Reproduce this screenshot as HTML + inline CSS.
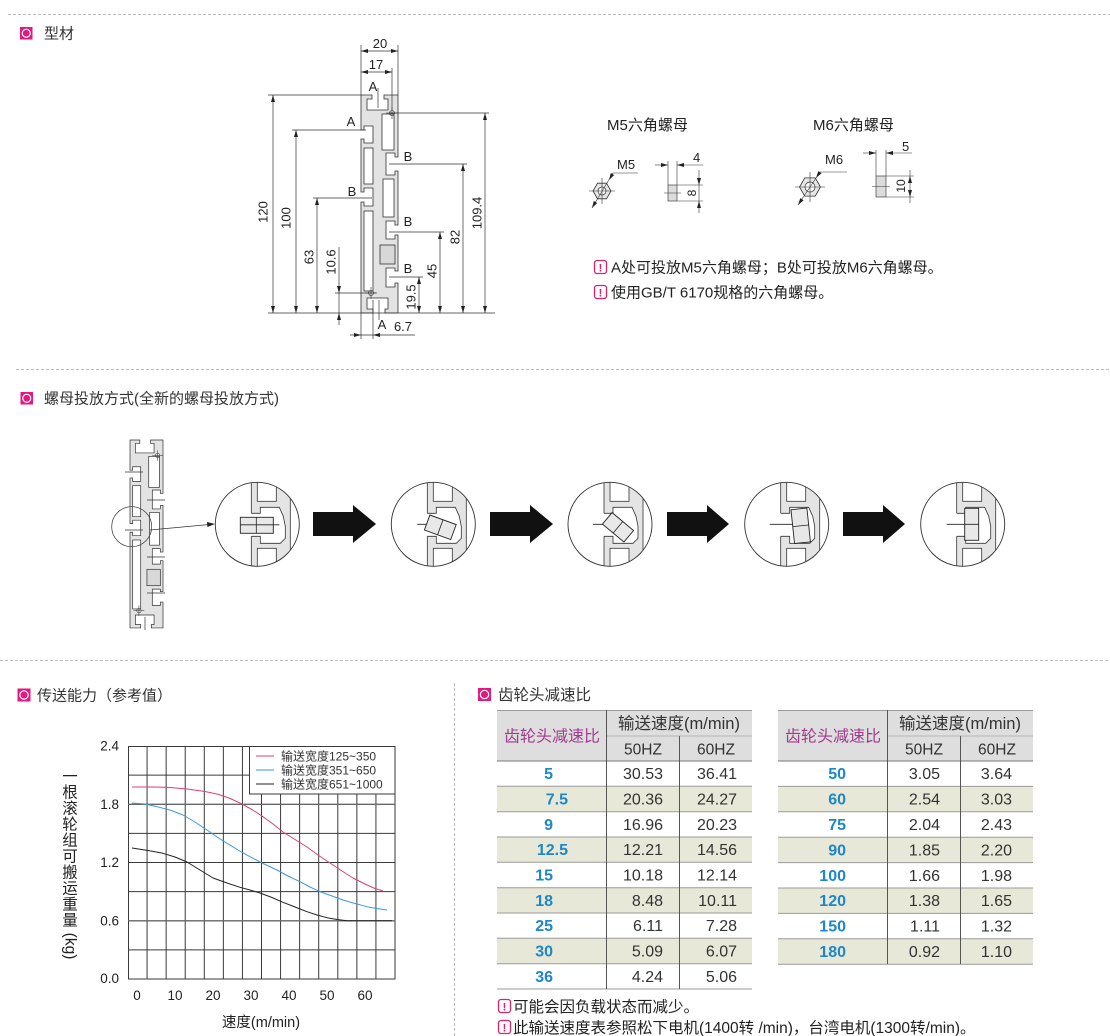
<!DOCTYPE html>
<html><head><meta charset="utf-8"><style>
html,body{margin:0;padding:0;background:#fff;width:1110px;height:1036px;overflow:hidden}
svg{display:block}
</style></head><body>
<svg width="1110" height="1036" viewBox="0 0 1110 1036" font-family="'Liberation Sans','Noto Sans CJK SC',sans-serif">
<defs>
<g id="prof">
<path d="M361,95 H372 V99 H367 V110 H388 V99 H384 V95 H398 V157 H395 V153 H386 V175 H395 V171 H398 V225 H395 V221 H386 V239 H395 V235 H398 V271 H395 V268 H386 V287 H395 V283 H398 V313 H385 V309 H388 V298 H367 V309 H373 V313 H361 V202 H364 V206 H373 V188 H364 V192 H361 V139 H364 V143 H373 V126 H364 V130 H361 Z" fill="#e3e3e3" stroke="#333" stroke-width="0.8"/>
<g fill="#fff" stroke="#333" stroke-width="0.8">
<rect x="382" y="114" width="12" height="36"/>
<rect x="364" y="148" width="9" height="36"/>
<rect x="383" y="179" width="11" height="38"/>
<rect x="364" y="211" width="9" height="80"/>
<rect x="380" y="245" width="15" height="19" fill="#d8d8d8"/>
</g>
<g fill="none" stroke="#333" stroke-width="0.6">
<circle cx="392" cy="113" r="2.5"/><line x1="386" y1="113" x2="398" y2="113"/><line x1="392" y1="107" x2="392" y2="119"/>
<circle cx="371" cy="293" r="2.5"/><line x1="365" y1="293" x2="377" y2="293"/><line x1="371" y1="287" x2="371" y2="299"/>
</g>
</g>
<clipPath id="cc" clipPathUnits="userSpaceOnUse"><circle cx="0" cy="0" r="42"/></clipPath>
<g id="cin">
<rect x="-6" y="-45" width="39" height="90" fill="#e4e4e4"/>
<rect x="0" y="-50" width="19" height="27" fill="#fff" stroke="#333" stroke-width="0.8"/>
<rect x="0" y="24" width="19" height="27" fill="#fff" stroke="#333" stroke-width="0.8"/>
<path d="M-7,-11 L3,-11 L3,-17 L22,-17 L26,-8 L28,2 L28,14 L23,19 L3,19 L3,12 L-7,12 Z" fill="#fff"/>
<path d="M-6,-11 L3,-11 L3,-17 L22,-17 L26,-8 L28,2 L28,14 L23,19 L3,19 L3,12 L-6,12" fill="none" stroke="#333" stroke-width="0.8"/>
<g stroke="#333" stroke-width="0.8">
<line x1="-6" y1="-50" x2="-6" y2="-11"/><line x1="-6" y1="12" x2="-6" y2="50"/>
<line x1="33" y1="-50" x2="33" y2="50"/>
</g>
</g>
</defs>

<!-- dashed separators -->
<g stroke="#bdbdbd" stroke-width="1" stroke-dasharray="3,2">
<line x1="8" y1="14.5" x2="1110" y2="14.5"/>
<line x1="16" y1="369.5" x2="1110" y2="369.5"/>
<line x1="0" y1="660.5" x2="1110" y2="660.5"/>
<line x1="454.5" y1="683" x2="454.5" y2="1036"/>
</g>

<!-- section headers -->
<g>
<rect x="20" y="27" width="12.5" height="12.5" fill="#e2177f"/><circle cx="26.25" cy="33.25" r="4" fill="none" stroke="#fff" stroke-width="1.2"/>
<text x="44" y="38.5" font-size="15" fill="#333">型材</text>
<rect x="20.5" y="392" width="12.5" height="12.5" fill="#e2177f"/><circle cx="26.75" cy="398.25" r="4" fill="none" stroke="#fff" stroke-width="1.2"/>
<text x="44" y="403.5" font-size="15" fill="#333">螺母投放方式(全新的螺母投放方式)</text>
<rect x="17.5" y="688.5" width="13" height="13" fill="#e2177f"/><circle cx="24" cy="695" r="4.2" fill="none" stroke="#fff" stroke-width="1.2"/>
<text x="37" y="700.5" font-size="15" fill="#333">传送能力（参考值）</text>
<rect x="478" y="688" width="13" height="13" fill="#e2177f"/><circle cx="484.5" cy="694.5" r="4.2" fill="none" stroke="#fff" stroke-width="1.2"/>
<text x="498" y="700" font-size="15.5" fill="#333">齿轮头减速比</text>
</g>

<!-- profile drawing -->
<use href="#prof"/>
<g stroke="#333" stroke-width="0.7" fill="none">
<line x1="361" y1="45" x2="361" y2="95"/><line x1="398" y1="45" x2="398" y2="95"/><line x1="392" y1="68" x2="392" y2="110"/>
<line x1="268" y1="95" x2="361" y2="95"/><line x1="268" y1="313" x2="495" y2="313"/>
<line x1="292" y1="130" x2="366" y2="130"/>
<line x1="313" y1="198" x2="372" y2="198"/>
<line x1="335" y1="293" x2="376" y2="293"/>
<line x1="389" y1="113" x2="489" y2="113"/>
<line x1="389" y1="164" x2="467" y2="164"/>
<line x1="389" y1="232" x2="444" y2="232"/>
<line x1="389" y1="277" x2="423" y2="277"/>
<line x1="361" y1="313" x2="361" y2="339"/><line x1="373" y1="300" x2="373" y2="339"/>
<line x1="378" y1="88" x2="378" y2="108"/><line x1="379" y1="300" x2="379" y2="320"/>
<line x1="273" y1="95" x2="273" y2="313"/>
<line x1="296" y1="130" x2="296" y2="313"/>
<line x1="317" y1="198" x2="317" y2="313"/>
<line x1="339" y1="247" x2="339" y2="325"/>
<line x1="485" y1="113" x2="485" y2="313"/>
<line x1="463" y1="164" x2="463" y2="313"/>
<line x1="440" y1="232" x2="440" y2="313"/>
<line x1="419" y1="277" x2="419" y2="313"/>
<line x1="361" y1="51" x2="398" y2="51"/>
<line x1="361" y1="72" x2="392" y2="72"/>
<line x1="350" y1="335" x2="415" y2="335"/>
</g>
<g fill="#222">
<polygon points="273,95 271,102 275,102"/><polygon points="273,313 271,306 275,306"/>
<polygon points="296,130 294,137 298,137"/><polygon points="296,313 294,306 298,306"/>
<polygon points="317,198 315,205 319,205"/><polygon points="317,313 315,306 319,306"/>
<polygon points="339,293 337,286 341,286"/><polygon points="339,313 337,320 341,320"/>
<polygon points="485,113 483,120 487,120"/><polygon points="485,313 483,306 487,306"/>
<polygon points="463,164 461,171 465,171"/><polygon points="463,313 461,306 465,306"/>
<polygon points="440,232 438,239 442,239"/><polygon points="440,313 438,306 442,306"/>
<polygon points="419,277 417,284 421,284"/><polygon points="419,313 417,306 421,306"/>
<polygon points="361,51 368,49 368,53"/><polygon points="398,51 391,49 391,53"/>
<polygon points="361,72 368,70 368,74"/><polygon points="392,72 385,70 385,74"/>
<polygon points="361,335 354,333 354,337"/><polygon points="373,335 380,333 380,337"/>
</g>
<g font-size="13" fill="#222" text-anchor="middle">
<text x="380" y="48">20</text>
<text x="376" y="69">17</text>
<text x="373" y="91">A</text>
<text x="351" y="126">A</text>
<text x="352" y="196">B</text>
<text x="408" y="161">B</text>
<text x="408" y="226">B</text>
<text x="408" y="273">B</text>
<text x="382" y="329">A</text>
<text x="403" y="331">6.7</text>
<text transform="translate(263,212) rotate(-90)" dominant-baseline="central">120</text>
<text transform="translate(286,218) rotate(-90)" dominant-baseline="central">100</text>
<text transform="translate(309,257) rotate(-90)" dominant-baseline="central">63</text>
<text transform="translate(331,262) rotate(-90)" dominant-baseline="central">10.6</text>
<text transform="translate(477,213) rotate(-90)" dominant-baseline="central">109.4</text>
<text transform="translate(455,237) rotate(-90)" dominant-baseline="central">82</text>
<text transform="translate(432,271) rotate(-90)" dominant-baseline="central">45</text>
<text transform="translate(411,297) rotate(-90)" dominant-baseline="central">19.5</text>
</g>

<!-- nuts -->
<g font-size="15" fill="#222">
<text x="607" y="130">M5六角螺母</text>
<text x="813" y="130">M6六角螺母</text>
</g>
<g font-size="13" fill="#222">
<text x="617" y="169">M5</text>
<text x="825" y="164">M6</text>
<text x="693" y="162">4</text>
<text x="902" y="151">5</text>
<text transform="translate(692,193) rotate(-90)" text-anchor="middle" dominant-baseline="central" font-size="12">8</text>
<text transform="translate(901,186) rotate(-90)" text-anchor="middle" dominant-baseline="central" font-size="12">10</text>
</g>
<polygon points="611,191 606.5,198.8 597.5,198.8 593,191 597.5,183.2 606.5,183.2" fill="#e6e6e6" stroke="#333" stroke-width="0.8"/>
<circle cx="602" cy="191" r="4" fill="#fff" stroke="#333" stroke-width="0.7"/>
<polygon points="820.5,187 815.25,196.1 804.75,196.1 799.5,187 804.75,177.9 815.25,177.9" fill="#e6e6e6" stroke="#333" stroke-width="0.8"/>
<circle cx="810" cy="187" r="5" fill="#fff" stroke="#333" stroke-width="0.7"/>
<g stroke="#333" stroke-width="0.6" fill="none">
<line x1="589" y1="191" x2="615" y2="191"/><line x1="602" y1="178" x2="602" y2="204"/>
<line x1="795" y1="187" x2="825" y2="187"/><line x1="810" y1="172" x2="810" y2="202"/>
<polyline points="592,208 613,173 638,173"/>
<polyline points="798,205 820,172 847,172"/>
<line x1="668" y1="161" x2="668" y2="185"/><line x1="677" y1="161" x2="677" y2="185"/>
<line x1="655" y1="165" x2="668" y2="165"/><line x1="677" y1="165" x2="703" y2="165"/>
<line x1="677" y1="185" x2="703" y2="185"/><line x1="677" y1="201" x2="703" y2="201"/>
<line x1="699" y1="170" x2="699" y2="213"/>
<line x1="876" y1="150" x2="876" y2="176"/><line x1="886" y1="150" x2="886" y2="176"/>
<line x1="863" y1="153" x2="876" y2="153"/><line x1="886" y1="153" x2="912" y2="153"/>
<line x1="886" y1="176" x2="914" y2="176"/><line x1="886" y1="197" x2="914" y2="197"/>
<line x1="910" y1="170" x2="910" y2="203"/>
</g>
<g fill="#222">
<polygon points="592,208 597.2,203 593.8,201"/><polygon points="609,180 614.2,175 610.8,173"/>
<polygon points="798,205 803.6,200.3 800.3,198.1"/><polygon points="816,178 821.6,173.3 818.3,171.1"/>
<polygon points="668,165 661,163 661,167"/><polygon points="677,165 684,163 684,167"/>
<polygon points="699,185 697,178 701,178"/><polygon points="699,201 697,208 701,208"/>
<polygon points="876,153 869,151 869,155"/><polygon points="886,153 893,151 893,155"/>
<polygon points="910,176 908,183 912,183"/><polygon points="910,197 908,190 912,190"/>
</g>
<rect x="668" y="185" width="9" height="16" fill="#dcdcdc" stroke="#444" stroke-width="0.7"/>
<line x1="664" y1="193" x2="681" y2="193" stroke="#333" stroke-width="0.6"/>
<rect x="876" y="176" width="10" height="21" fill="#dcdcdc" stroke="#444" stroke-width="0.7"/>
<line x1="872" y1="186.5" x2="890" y2="186.5" stroke="#333" stroke-width="0.6"/>

<!-- nut notes -->
<g>
<rect x="594.5" y="260.5" width="12" height="13" rx="2.5" fill="none" stroke="#d8246f" stroke-width="1.3"/>
<text x="600.5" y="271.5" font-size="11" font-weight="bold" fill="#d8246f" text-anchor="middle">!</text>
<text x="611" y="272.5" font-size="15" fill="#222">A处可投放M5六角螺母；B处可投放M6六角螺母。</text>
<rect x="594.5" y="285.5" width="12" height="13" rx="2.5" fill="none" stroke="#d8246f" stroke-width="1.3"/>
<text x="600.5" y="296.5" font-size="11" font-weight="bold" fill="#d8246f" text-anchor="middle">!</text>
<text x="611" y="297.5" font-size="15" fill="#222">使用GB/T 6170规格的六角螺母。</text>
</g>

<!-- section 2: small profile -->
<g transform="translate(130,440) scale(0.892,0.862) translate(-361,-95)"><use href="#prof"/></g>
<g stroke="#333" stroke-width="0.7" fill="none">
<line x1="125" y1="472" x2="143" y2="472"/>
<line x1="147" y1="500" x2="165" y2="500"/>
<line x1="125" y1="530" x2="143" y2="530"/>
<line x1="147" y1="557" x2="165" y2="557"/>
<line x1="147" y1="593" x2="165" y2="593"/>
<line x1="145" y1="617" x2="145" y2="630"/>
<circle cx="131.7" cy="526.7" r="20"/>
<line x1="150" y1="530" x2="208" y2="524.6"/>
</g>
<polygon points="215,524 207,522 207.4,527" fill="#222"/>

<!-- circles -->
<g transform="translate(257.3,524.3)">
<circle r="42" fill="#fff"/>
<g clip-path="url(#cc)"><use href="#cin"/>
<rect x="-17" y="-7" width="33" height="16" fill="#e8e8e8" stroke="#222" stroke-width="0.9"/>
<line x1="-1" y1="-7" x2="-1" y2="9" stroke="#222" stroke-width="0.8"/>
<line x1="-17" y1="0.5" x2="22" y2="0.5" stroke="#222" stroke-width="0.8"/>
</g>
<circle r="42" fill="none" stroke="#333" stroke-width="0.9"/>
</g>
<g transform="translate(433.3,524.3)">
<circle r="42" fill="#fff"/>
<g clip-path="url(#cc)"><use href="#cin"/>
<line x1="-16" y1="0" x2="10" y2="0" stroke="#222" stroke-width="0.8"/>
<g transform="translate(7,3) rotate(20)"><rect x="-14" y="-8" width="28" height="16" fill="#e8e8e8" stroke="#222" stroke-width="0.9"/><line x1="0" y1="-8" x2="0" y2="8" stroke="#222" stroke-width="0.8"/></g>
</g>
<circle r="42" fill="none" stroke="#333" stroke-width="0.9"/>
</g>
<g transform="translate(610,524.3)">
<circle r="42" fill="#fff"/>
<g clip-path="url(#cc)"><use href="#cin"/>
<line x1="-17" y1="0" x2="13" y2="0" stroke="#222" stroke-width="0.8"/>
<g transform="translate(8,3) rotate(40)"><rect x="-14" y="-7.5" width="28" height="15" fill="#e8e8e8" stroke="#222" stroke-width="0.9"/><line x1="0" y1="-7.5" x2="0" y2="7.5" stroke="#222" stroke-width="0.8"/></g>
</g>
<circle r="42" fill="none" stroke="#333" stroke-width="0.9"/>
</g>
<g transform="translate(786.7,524.3)">
<circle r="42" fill="#fff"/>
<g clip-path="url(#cc)"><use href="#cin"/>
<line x1="-17" y1="0" x2="7" y2="0" stroke="#222" stroke-width="0.8"/>
<g transform="translate(14,1.5) rotate(84)"><rect x="-17" y="-8" width="34" height="16" fill="#e8e8e8" stroke="#222" stroke-width="0.9"/><line x1="0" y1="-8" x2="0" y2="8" stroke="#222" stroke-width="0.8"/></g>
</g>
<circle r="42" fill="none" stroke="#333" stroke-width="0.9"/>
</g>
<g transform="translate(962.7,524.3)">
<circle r="42" fill="#fff"/>
<g clip-path="url(#cc)"><use href="#cin"/>
<rect x="2" y="-16" width="14" height="32" fill="#e8e8e8" stroke="#222" stroke-width="0.9"/>
<line x1="-16" y1="0" x2="16" y2="0" stroke="#222" stroke-width="0.8"/>
</g>
<circle r="42" fill="none" stroke="#333" stroke-width="0.9"/>
</g>

<!-- big arrows -->
<g fill="#111">
<polygon points="313,512 353,512 353,505 376,524 353,543 353,536 313,536"/>
<polygon points="490,512 530,512 530,505 553,524 530,543 530,536 490,536"/>
<polygon points="667,512 707,512 707,505 729,524 707,543 707,536 667,536"/>
<polygon points="843,512 883,512 883,505 905,524 883,543 883,536 843,536"/>
</g>

<!-- chart -->
<g stroke="#3a3a3a" stroke-width="1" fill="none">
<rect x="128.5" y="746.5" width="266.5" height="232.5"/>
<line x1="147.07" y1="746" x2="147.07" y2="979"/>
<line x1="166.14" y1="746" x2="166.14" y2="979"/>
<line x1="185.21" y1="746" x2="185.21" y2="979"/>
<line x1="204.29" y1="746" x2="204.29" y2="979"/>
<line x1="223.36" y1="746" x2="223.36" y2="979"/>
<line x1="242.43" y1="746" x2="242.43" y2="979"/>
<line x1="261.5" y1="746" x2="261.5" y2="979"/>
<line x1="280.57" y1="746" x2="280.57" y2="979"/>
<line x1="299.64" y1="746" x2="299.64" y2="979"/>
<line x1="318.71" y1="746" x2="318.71" y2="979"/>
<line x1="337.79" y1="746" x2="337.79" y2="979"/>
<line x1="356.86" y1="746" x2="356.86" y2="979"/>
<line x1="375.93" y1="746" x2="375.93" y2="979"/>
<line x1="128" y1="775.1" x2="395" y2="775.1"/>
<line x1="128" y1="804.3" x2="395" y2="804.3" stroke="#666" stroke-width="1.4"/>
<line x1="128" y1="833.4" x2="395" y2="833.4"/>
<line x1="128" y1="862.5" x2="395" y2="862.5"/>
<line x1="128" y1="891.6" x2="395" y2="891.6"/>
<line x1="128" y1="920.8" x2="395" y2="920.8" stroke="#666" stroke-width="1.4"/>
<line x1="128" y1="949.9" x2="395" y2="949.9"/>
</g>
<rect x="249.5" y="746.5" width="145.5" height="47.5" fill="#fff" stroke="#3a3a3a" stroke-width="1"/>
<g fill="none" stroke-width="1">
<line x1="256" y1="756" x2="274" y2="756" stroke="#d9407f"/>
<line x1="256" y1="770" x2="274" y2="770" stroke="#3a9ad9"/>
<line x1="256" y1="784" x2="274" y2="784" stroke="#222"/>
<polyline stroke="#d9407f" stroke-linejoin="round" points="132,787 150,787 167,787.3 187,789 205,791.5 217,794 229,798 240,803 252,809.5 263,816.7 273,824 283,832 295,839.5 307,847 318,855 330,863 342,871 353,878 365,884 375,888.5 383,891"/>
<polyline stroke="#3a9ad9" stroke-linejoin="round" points="132,803 145,804 157,806.7 170,810 183,815 195,822 207,830 217,837 227,843.3 238,850 250,856.7 263,863.5 277,870 288,876 300,881.7 310,887 320,891.7 332,896 343,900 355,903.5 367,906.7 377,908.5 387,910"/>
<polyline stroke="#222" stroke-linejoin="round" points="132,848 148,850.5 163,853.3 175,857 187,862 200,870 213,878 227,883 240,887.3 250,890 260,893 272,897.5 283,902.3 295,907 307,911.7 317,915 327,917.7 337,919.5 347,920.7 392,920.7"/>
</g>
<g font-size="12" fill="#333">
<text x="281" y="760.5">输送宽度125~350</text>
<text x="281" y="774.5">输送宽度351~650</text>
<text x="281" y="788.5">输送宽度651~1000</text>
</g>
<g font-size="13.5" fill="#222" text-anchor="end">
<text x="119" y="750.5">2.4</text>
<text x="119" y="808.8">1.8</text>
<text x="119" y="867">1.2</text>
<text x="119" y="925.3">0.6</text>
<text x="119" y="983">0.0</text>
</g>
<g font-size="13.5" fill="#222" text-anchor="middle">
<text x="137" y="1000">0</text>
<text x="175" y="1000">10</text>
<text x="213" y="1000">20</text>
<text x="251" y="1000">30</text>
<text x="289" y="1000">40</text>
<text x="327" y="1000">50</text>
<text x="365" y="1000">60</text>
<text x="261" y="1027" font-size="14.5">速度(m/min)</text>
</g>
<g font-size="15.5" fill="#222" text-anchor="middle">
<text x="70" y="781.5">一</text>
<text x="70" y="797.5">根</text>
<text x="70" y="813.5">滚</text>
<text x="70" y="829.5">轮</text>
<text x="70" y="845.5">组</text>
<text x="70" y="861.5">可</text>
<text x="70" y="877.5">搬</text>
<text x="70" y="893.5">运</text>
<text x="70" y="909.5">重</text>
<text x="70" y="925.5">量</text>
<text transform="translate(70,946) rotate(90)" dominant-baseline="central">(kg)</text>
</g>

<!-- table 1 -->
<rect x="497" y="710" width="255" height="51" fill="#dedede"/>
<g fill="#e8e8d8">
<rect x="497" y="786.3" width="255" height="25.33"/>
<rect x="497" y="837" width="255" height="25.33"/>
<rect x="497" y="887.7" width="255" height="25.33"/>
<rect x="497" y="938.3" width="255" height="25.33"/>
</g>
<g stroke="#9a9a9a" stroke-width="1">
<line x1="497" y1="710.5" x2="752" y2="710.5"/>
<line x1="606" y1="736" x2="752" y2="736" stroke="#b5b5b5"/>
<line x1="497" y1="761" x2="752" y2="761" stroke="#777"/>
<line x1="497" y1="786.3" x2="752" y2="786.3"/>
<line x1="497" y1="811.7" x2="752" y2="811.7"/>
<line x1="497" y1="837" x2="752" y2="837"/>
<line x1="497" y1="862.3" x2="752" y2="862.3"/>
<line x1="497" y1="887.7" x2="752" y2="887.7"/>
<line x1="497" y1="913" x2="752" y2="913"/>
<line x1="497" y1="938.3" x2="752" y2="938.3"/>
<line x1="497" y1="963.7" x2="752" y2="963.7"/>
<line x1="497" y1="989" x2="752" y2="989"/>
<line x1="606.5" y1="710" x2="606.5" y2="989" stroke="#555"/>
<line x1="679.5" y1="736" x2="679.5" y2="989" stroke="#555"/>
</g>
<text x="552" y="741.5" font-size="16" fill="#a13a8e" text-anchor="middle">齿轮头减速比</text>
<text x="679" y="729" font-size="16.5" fill="#333" text-anchor="middle">输送速度(m/min)</text>
<text x="643" y="754.5" font-size="15.5" fill="#333" text-anchor="middle">50HZ</text>
<text x="716" y="754.5" font-size="15.5" fill="#333" text-anchor="middle">60HZ</text>
<g font-size="16" font-weight="bold" fill="#1e87c6" text-anchor="end">
<text x="553" y="779.2">5</text>
<text x="568" y="804.5">7.5</text>
<text x="553" y="829.8">9</text>
<text x="568" y="855.2">12.5</text>
<text x="553" y="880.5">15</text>
<text x="553" y="905.8">18</text>
<text x="553" y="931.2">25</text>
<text x="553" y="956.5">30</text>
<text x="553" y="981.8">36</text>
</g>
<g font-size="16" fill="#333" text-anchor="end">
<text x="663" y="779.2">30.53</text><text x="737" y="779.2">36.41</text>
<text x="663" y="804.5">20.36</text><text x="737" y="804.5">24.27</text>
<text x="663" y="829.8">16.96</text><text x="737" y="829.8">20.23</text>
<text x="663" y="855.2">12.21</text><text x="737" y="855.2">14.56</text>
<text x="663" y="880.5">10.18</text><text x="737" y="880.5">12.14</text>
<text x="663" y="905.8">8.48</text><text x="737" y="905.8">10.11</text>
<text x="663" y="931.2">6.11</text><text x="737" y="931.2">7.28</text>
<text x="663" y="956.5">5.09</text><text x="737" y="956.5">6.07</text>
<text x="663" y="981.8">4.24</text><text x="737" y="981.8">5.06</text>
</g>

<!-- table 2 -->
<rect x="778" y="710" width="255" height="51" fill="#dedede"/>
<g fill="#e8e8d8">
<rect x="778" y="786.4" width="255" height="25.4"/>
<rect x="778" y="837.2" width="255" height="25.4"/>
<rect x="778" y="888" width="255" height="25.4"/>
<rect x="778" y="938.8" width="255" height="25.4"/>
</g>
<g stroke="#9a9a9a" stroke-width="1">
<line x1="778" y1="710.5" x2="1033" y2="710.5"/>
<line x1="887" y1="736" x2="1033" y2="736" stroke="#b5b5b5"/>
<line x1="778" y1="761" x2="1033" y2="761" stroke="#777"/>
<line x1="778" y1="786.4" x2="1033" y2="786.4"/>
<line x1="778" y1="811.8" x2="1033" y2="811.8"/>
<line x1="778" y1="837.2" x2="1033" y2="837.2"/>
<line x1="778" y1="862.6" x2="1033" y2="862.6"/>
<line x1="778" y1="888" x2="1033" y2="888"/>
<line x1="778" y1="913.4" x2="1033" y2="913.4"/>
<line x1="778" y1="938.8" x2="1033" y2="938.8"/>
<line x1="778" y1="964.2" x2="1033" y2="964.2"/>
<line x1="887.5" y1="710" x2="887.5" y2="964" stroke="#555"/>
<line x1="960.5" y1="736" x2="960.5" y2="964" stroke="#555"/>
</g>
<text x="833" y="741.5" font-size="16" fill="#a13a8e" text-anchor="middle">齿轮头减速比</text>
<text x="960" y="729" font-size="16.5" fill="#333" text-anchor="middle">输送速度(m/min)</text>
<text x="924" y="754.5" font-size="15.5" fill="#333" text-anchor="middle">50HZ</text>
<text x="997" y="754.5" font-size="15.5" fill="#333" text-anchor="middle">60HZ</text>
<g font-size="16" font-weight="bold" fill="#1e87c6" text-anchor="end">
<text x="846" y="779.2">50</text>
<text x="846" y="804.6">60</text>
<text x="846" y="830">75</text>
<text x="846" y="855.4">90</text>
<text x="846" y="880.8">100</text>
<text x="846" y="906.2">120</text>
<text x="846" y="931.6">150</text>
<text x="846" y="957">180</text>
</g>
<g font-size="16" fill="#333" text-anchor="end">
<text x="940" y="779.2">3.05</text><text x="1012" y="779.2">3.64</text>
<text x="940" y="804.6">2.54</text><text x="1012" y="804.6">3.03</text>
<text x="940" y="830">2.04</text><text x="1012" y="830">2.43</text>
<text x="940" y="855.4">1.85</text><text x="1012" y="855.4">2.20</text>
<text x="940" y="880.8">1.66</text><text x="1012" y="880.8">1.98</text>
<text x="940" y="906.2">1.38</text><text x="1012" y="906.2">1.65</text>
<text x="940" y="931.6">1.11</text><text x="1012" y="931.6">1.32</text>
<text x="940" y="957">0.92</text><text x="1012" y="957">1.10</text>
</g>

<!-- table notes -->
<g>
<rect x="498.5" y="999.5" width="12" height="13" rx="2.5" fill="none" stroke="#d8246f" stroke-width="1.3"/>
<text x="504.5" y="1010.5" font-size="11" font-weight="bold" fill="#d8246f" text-anchor="middle">!</text>
<text x="513" y="1012" font-size="15.5" fill="#222">可能会因负载状态而减少。</text>
<rect x="498.5" y="1020.5" width="12" height="13" rx="2.5" fill="none" stroke="#d8246f" stroke-width="1.3"/>
<text x="504.5" y="1031.5" font-size="11" font-weight="bold" fill="#d8246f" text-anchor="middle">!</text>
<text x="513" y="1033" font-size="15.5" fill="#222">此输送速度表参照松下电机(1400转 /min)，台湾电机(1300转/min)。</text>
</g>
</svg>
</body></html>
